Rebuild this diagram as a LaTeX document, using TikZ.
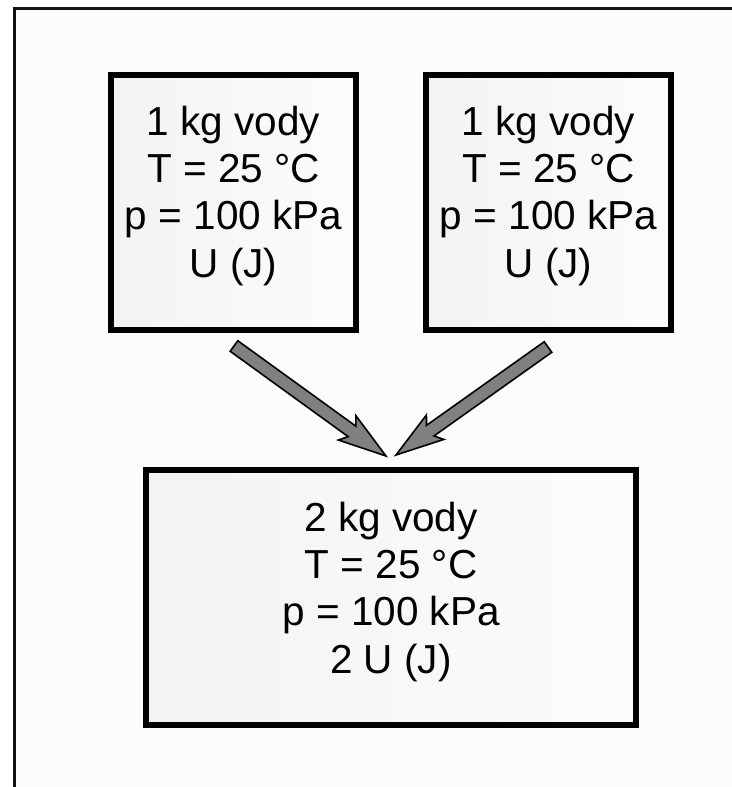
\documentclass[tikz,border=0pt]{standalone}
\usepackage{fontspec}
\setmainfont{Liberation Sans}
\usetikzlibrary{calc}
\definecolor{pagebg}{RGB}{252,252,252}
\definecolor{boxl}{RGB}{243,243,243}
\definecolor{boxr}{RGB}{252,252,252}
\definecolor{arrowgray}{RGB}{128,128,128}
\definecolor{framecol}{RGB}{20,20,20}
\tikzset{
  box/.style={draw=black, line width=6pt, left color=boxl, right color=boxr, rectangle, inner sep=0pt},
  txt/.style={anchor=base, inner sep=0pt, font=\fontsize{40.5}{47}\selectfont},
  fatarrow/.style={fill=arrowgray, draw=black, line width=1.6pt, line join=miter}
}
\newcommand{\fatarr}[2]{%
  \draw[fatarrow]
    ($(#1)!6.5pt!90:(#2)$) --
    ($($(#2)!42pt!(#1)$)!6.5pt!-90:(#1)$) --
    ($($(#2)!48pt!(#1)$)!15pt!-90:(#1)$) --
    (#2) --
    ($($(#2)!48pt!(#1)$)!15pt!90:(#1)$) --
    ($($(#2)!42pt!(#1)$)!6.5pt!90:(#1)$) --
    ($(#1)!6.5pt!-90:(#2)$) -- cycle;}
\begin{document}
\begin{tikzpicture}[x=1pt,y=-1pt]
\useasboundingbox (0,0) rectangle (731,787);
\fill[white] (0,0) rectangle (731,787);
\fill[pagebg] (14.5,8.5) rectangle (735,792);
\draw[framecol, line width=2.2pt] (14.5,792) -- (14.5,8.5) -- (735,8.5);
% boxes
\node[box, minimum width=245pt, minimum height=255pt] (box1) at (233.5,202.5) {};
\node[box, minimum width=245pt, minimum height=255pt] (box2) at (548.5,202.5) {};
\node[box, minimum width=490pt, minimum height=255pt] (box3) at (391,597.5) {};
% texts
\node[txt] (a1) at (233.5,135) {1 kg vody};
\node[txt] (a2) at (233.5,182) {T = 25 °C};
\node[txt] (a3) at (233.5,229.5) {p = 100 kPa};
\node[txt] (a4) at (233.5,277) {U (J)};
\node[txt] (b1) at (548.5,135) {1 kg vody};
\node[txt] (b2) at (548.5,182) {T = 25 °C};
\node[txt] (b3) at (548.5,229.5) {p = 100 kPa};
\node[txt] (b4) at (548.5,277) {U (J)};
\node[txt] (c1) at (391,531) {2 kg vody};
\node[txt] (c2) at (391,578) {T = 25 °C};
\node[txt] (c3) at (391,625.5) {p = 100 kPa};
\node[txt] (c4) at (391,673) {2 U (J)};
% arrows
\coordinate (t1) at (234,346);
\coordinate (h1) at (386,456);
\coordinate (t2) at (548,347);
\coordinate (h2) at (396,455);
\fatarr{t1}{h1}
\fatarr{t2}{h2}
\end{tikzpicture}
\end{document}
